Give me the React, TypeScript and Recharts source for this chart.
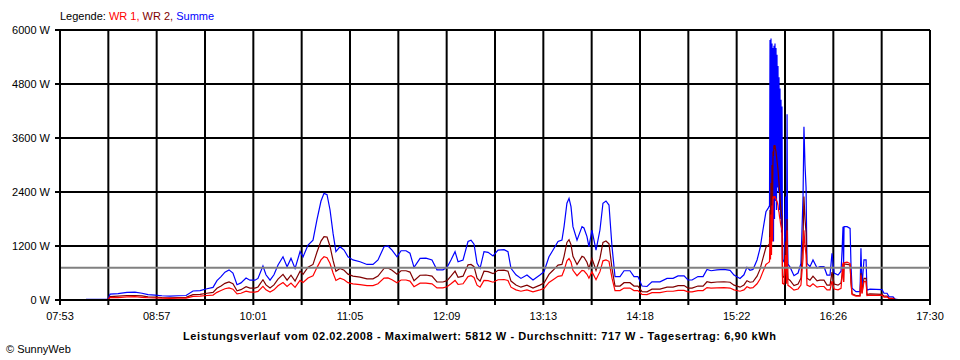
import React from 'react';
import { LineChart, Line, XAxis, YAxis, CartesianGrid, ReferenceLine } from 'recharts';

// time in minutes since midnight
const minutes = [
  490.2, 504.8, 506.2, 511.5, 517.4, 522.7, 527.4, 531.4, 536.0, 540.6,
  546.0, 551.3, 556.6, 561.2, 565.9, 570.5, 574.5, 577.1, 579.8, 582.4,
  585.1, 587.7, 590.4, 593.0, 596.4, 599.0, 602.3, 604.3, 607.6, 609.6,
  612.3, 614.9, 617.6, 620.9, 623.6, 626.2, 628.9, 632.2, 634.2, 637.5,
  640.8, 643.4, 646.1, 648.1, 650.1, 652.1, 654.1, 656.0, 658.7, 661.4,
  664.0, 667.3, 672.0, 676.6, 680.6, 683.9, 687.9, 690.5, 693.2, 696.5,
  699.2, 702.5, 705.1, 707.8, 711.8, 715.7, 719.7, 723.0, 727.0, 729.7,
  732.3, 735.0, 737.0, 740.3, 743.6, 745.6, 747.6, 749.6, 751.6, 754.2,
  756.9, 760.2, 763.5, 767.5, 770.1, 772.1, 775.4, 778.7, 782.7, 786.7,
  791.3, 794.0, 797.3, 800.0, 803.3, 805.9, 807.3, 809.2, 810.6, 811.9,
  813.2, 815.9, 819.2, 820.5, 822.5, 823.8, 825.8, 828.5, 831.1, 833.1,
  835.1, 837.1, 839.1, 841.1, 844.4, 847.1, 851.0, 853.7, 856.3, 859.0,
  862.3, 865.6, 870.9, 875.6, 879.6, 882.9, 886.9, 889.5, 892.2, 896.1,
  899.5, 902.1, 904.8, 908.7, 913.4, 917.4, 920.0, 924.0, 926.6, 928.6,
  930.6, 932.6, 935.3, 937.3, 939.2, 941.2, 942.6,
  943.55, 943.89, 944.22, 944.55, 944.88, 945.21, 945.54, 945.88, 946.21, 946.54,
  946.87, 947.2, 947.53, 947.87, 948.2, 948.53, 948.86, 949.19, 949.52, 949.86,
  950.19, 950.52, 950.85, 951.18, 951.51, 951.85, 952.18,
  953.2, 954.2, 954.8, 955.2, 955.5, 955.8, 957.2, 959.8, 962.5, 964.4,
  965.8, 966.4, 967.1, 967.8, 968.4, 970.4, 972.4, 975.1, 977.0, 979.7,
  981.7, 983.7, 985.0, 986.4, 989.0, 991.0, 991.7, 992.3, 992.7, 993.0,
  995.0, 997.0, 997.6, 998.3, 1000.9, 1003.6, 1004.2, 1004.9, 1006.2, 1007.6,
  1008.2, 1010.2, 1014.2, 1018.2, 1019.5, 1021.5, 1022.8, 1025.5, 1026.8, 1028.8,
];

const summe = [
  15, 20, 130, 140, 170, 175, 150, 120, 110, 95,
  85, 95, 100, 200, 210, 250, 280, 430, 520, 620,
  670, 600, 340, 380, 490, 440, 440, 480, 755, 560,
  440, 560, 780, 960, 740, 925, 700, 1075, 960, 1220,
  1330, 1780, 2200, 2370, 2340, 2000, 1480, 1075, 1185, 1110,
  960, 890, 850, 790, 790, 890, 1185, 1200, 1110, 960,
  1095, 1095, 1040, 725, 925, 930, 890, 670, 670, 725,
  890, 1075, 850, 890, 1300, 1330, 1240, 815, 705, 1075,
  1060, 980, 1110, 1120, 1075, 705, 560, 480, 555, 445,
  555, 630, 960, 1110, 1300, 1330, 1630, 2150, 2260, 2075,
  1630, 1330, 1630, 1600, 1410, 1185, 1555, 1110, 1555, 2150,
  2200, 2110, 1185, 520, 520, 650, 650, 520, 520, 310,
  300, 405, 405, 480, 480, 535, 535, 445, 445, 520,
  520, 680, 650, 670, 680, 660, 555, 480, 560, 725,
  660, 680, 890, 1150, 1555, 1960, 2035,
  2100, 5780, 1200, 5810, 1400, 5700, 1600, 5600, 1300, 5650,
  1800, 5700, 2200, 5600, 2000, 5450, 2500, 5200, 2400, 4950,
  2000, 4700, 1800, 4450, 1500, 4300, 900,
  850, 2300, 900, 4130, 1500, 800, 730, 540, 600, 815,
  2300, 3850, 3000, 2500, 815, 740, 890, 710, 740, 740,
  555, 555, 1040, 600, 555, 640, 1110, 1630, 800, 1630,
  1630, 1590, 780, 260, 185, 185, 1150, 300, 890, 890,
  220, 240, 235, 230, 150, 150, 75, 70, 20, 10,
];

const wr2 = [
  8, 12, 75, 85, 100, 100, 90, 70, 65, 55,
  50, 55, 60, 120, 125, 150, 170, 260, 310, 370,
  400, 360, 205, 230, 295, 265, 265, 290, 450, 335,
  265, 335, 465, 570, 440, 550, 420, 640, 570, 730,
  790, 1060, 1310, 1410, 1400, 1190, 880, 640, 700, 660,
  575, 530, 510, 470, 470, 530, 700, 710, 660, 575,
  650, 650, 620, 430, 550, 555, 530, 400, 400, 430,
  530, 640, 505, 530, 780, 790, 740, 485, 420, 640,
  630, 585, 660, 665, 640, 420, 335, 285, 330, 265,
  330, 375, 570, 660, 775, 790, 970, 1280, 1340, 1230,
  970, 790, 970, 950, 840, 700, 925, 660, 925, 1280,
  1310, 1250, 700, 310, 310, 385, 385, 310, 310, 185,
  180, 240, 240, 285, 285, 320, 320, 265, 265, 310,
  310, 405, 385, 400, 405, 395, 330, 285, 335, 430,
  395, 405, 530, 685, 925, 1170, 1210,
  1250, 2000, 1300, 2600, 1500, 3000, 1900, 3300, 3200, 3440,
  3400, 3440, 3350, 3300, 3200, 3100, 3000, 2900, 2750, 2600,
  2450, 2300, 2100, 2000, 1900, 1850, 530,
  500, 1300, 540, 1800, 890, 475, 435, 320, 355, 485,
  1370, 2300, 1800, 1500, 485, 440, 530, 425, 440, 440,
  330, 330, 620, 355, 330, 380, 560, 800, 400, 800,
  790, 780, 390, 140, 100, 100, 600, 160, 480, 480,
  120, 135, 130, 125, 85, 85, 40, 38, 12, 6,
];

const wr1 = [
  7, 8, 55, 55, 70, 75, 60, 50, 45, 40,
  35, 40, 40, 80, 85, 100, 110, 170, 210, 250,
  270, 240, 135, 150, 195, 175, 175, 190, 305, 225,
  175, 225, 315, 390, 300, 375, 280, 435, 390, 490,
  540, 720, 890, 960, 940, 810, 600, 435, 485, 450,
  385, 360, 340, 320, 320, 360, 485, 490, 450, 385,
  445, 445, 420, 295, 375, 375, 360, 270, 270, 295,
  360, 435, 345, 360, 520, 540, 500, 330, 285, 435,
  430, 395, 450, 455, 435, 285, 225, 195, 225, 180,
  225, 255, 390, 450, 525, 540, 660, 870, 920, 845,
  660, 540, 660, 650, 570, 485, 630, 450, 630, 870,
  890, 860, 485, 210, 210, 265, 265, 210, 210, 125,
  120, 165, 165, 195, 195, 215, 215, 180, 180, 210,
  210, 275, 265, 270, 275, 265, 225, 195, 225, 295,
  265, 275, 360, 465, 630, 790, 825,
  850, 1400, 900, 1900, 1000, 2100, 1300, 2300, 2250, 2300,
  2300, 2300, 2250, 2250, 2200, 2200, 2150, 2100, 2000, 1950,
  1850, 1800, 1700, 1650, 1600, 1550, 370,
  350, 1000, 360, 1550, 610, 325, 295, 220, 245, 330,
  930, 1550, 1200, 1000, 330, 300, 360, 285, 300, 300,
  225, 225, 420, 245, 225, 260, 550, 830, 400, 830,
  840, 810, 390, 120, 85, 85, 550, 140, 410, 410,
  100, 105, 105, 105, 65, 65, 35, 32, 8, 4,
];

const yTicks = [0, 1200, 2400, 3600, 4800, 6000];
const xTickLabels = ['07:53', '08:57', '10:01', '11:05', '12:09', '13:13', '14:18', '15:22', '16:26', '17:30'];
const xStart = 473; // 07:53
const xEnd = 1050; // 17:30
const average = 717;

const legendParts = [
  { text: 'Legende: ', color: '#000000' },
  { text: 'WR 1, ', color: '#ff0000' },
  { text: 'WR 2, ', color: '#800000' },
  { text: 'Summe', color: '#0000ff' },
];
const titleText = 'Leistungsverlauf vom 02.02.2008 - Maximalwert: 5812 W - Durchschnitt: 717 W - Tagesertrag: 6,90 kWh';
const copyrightText = '\u00A9 SunnyWeb';

const data = minutes.map((t, i) => ({ t, summe: summe[i], wr2: wr2[i], wr1: wr1[i] }));
const gridCount = (xTickLabels.length - 1) * 2;
const xTicks = Array.from({ length: gridCount + 1 }, (_, i) => xStart + ((xEnd - xStart) * i) / gridCount);

const FONT = '"Liberation Sans", Arial, sans-serif';

export default function App() {
  return (
    <div style={{ position: 'absolute', left: 0, top: 0, width: 960, height: 360, background: '#fff' }}>
      <LineChart
        width={960}
        height={360}
        data={data}
        margin={{ top: 30, right: 30, bottom: 30, left: 0 }}
      >
        <CartesianGrid stroke="#000" strokeWidth={2} vertical horizontal />
        <XAxis
          dataKey="t"
          type="number"
          domain={[xStart, xEnd]}
          ticks={xTicks}
          interval={0}
          height={30}
          tickSize={5}
          tickMargin={7}
          axisLine={{ stroke: '#000', strokeWidth: 2 }}
          tickLine={{ stroke: '#000', strokeWidth: 2 }}
          tick={{ fill: '#000', fontSize: 11, fontFamily: FONT }}
          tickFormatter={(_v: number, i: number) => (i % 2 === 0 ? xTickLabels[i / 2] : '')}
        />
        <YAxis
          type="number"
          domain={[0, 6000]}
          ticks={yTicks}
          interval={0}
          width={60}
          tickSize={5}
          tickMargin={5}
          axisLine={{ stroke: '#000', strokeWidth: 2 }}
          tickLine={{ stroke: '#000', strokeWidth: 2 }}
          tick={{ fill: '#000', fontSize: 11, fontFamily: FONT }}
          tickFormatter={(v: number) => `${v} W`}
        />
        <Line dataKey="summe" stroke="#0000ff" strokeWidth={1.2} dot={false} isAnimationActive={false} type="linear" />
        <Line dataKey="wr2" stroke="#800000" strokeWidth={1.2} dot={false} isAnimationActive={false} type="linear" />
        <Line dataKey="wr1" stroke="#ff0000" strokeWidth={1.2} dot={false} isAnimationActive={false} type="linear" />
        <ReferenceLine y={average} stroke="#808080" strokeWidth={2} />
      </LineChart>
      <svg
        width={960}
        height={360}
        style={{ position: 'absolute', left: 0, top: 0, pointerEvents: 'none' }}
      >
        <text x={60} y={20} fontSize={11} fontFamily={FONT}>
          {legendParts.map((p, i) => (
            <tspan key={i} fill={p.color}>{p.text.replace(/ /g, '\u00A0')}</tspan>
          ))}
        </text>
        <text x={183} y={340} fontSize={11} fontWeight="bold" fontFamily={FONT} fill="#000" textLength={593} lengthAdjust="spacing">
          {titleText}
        </text>
        <text x={6} y={353} fontSize={11} fontFamily={FONT} fill="#000">
          {copyrightText}
        </text>
      </svg>
    </div>
  );
}
